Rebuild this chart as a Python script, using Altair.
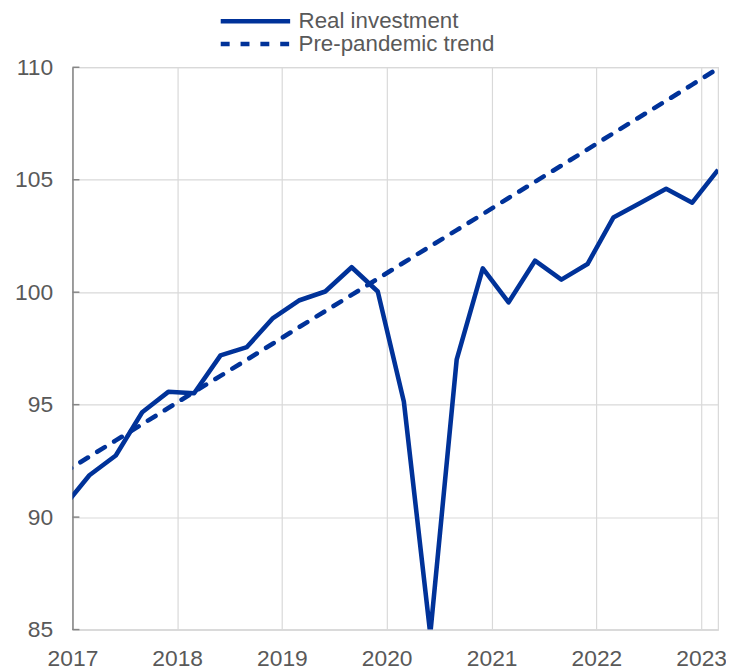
import altair as alt
import pandas as pd

dates = [
    "2016-12-01",
    "2017-03-01", "2017-06-01", "2017-09-01", "2017-12-01",
    "2018-03-01", "2018-06-01", "2018-09-01", "2018-12-01",
    "2019-03-01", "2019-06-01", "2019-09-01", "2019-12-01",
    "2020-03-01", "2020-06-01", "2020-09-01", "2020-12-01",
    "2021-03-01", "2021-06-01", "2021-09-01", "2021-12-01",
    "2022-03-01", "2022-06-01", "2022-09-01", "2022-12-01",
    "2023-03-01",
]
real_investment = [
    90.45,
    91.86, 92.74, 94.66, 95.57,
    95.51, 97.19, 97.56, 98.85,
    99.63, 100.03, 101.11, 100.03,
    95.13, 84.8, 97.0, 101.06,
    99.55, 101.4, 100.56, 101.25,
    103.32, 103.96, 104.6, 103.98,
    105.44,
]
pre_pandemic_trend = [
    91.97,
    92.69, 93.41, 94.13, 94.85,
    95.57, 96.28, 97.00, 97.72,
    98.44, 99.16, 99.88, 100.60,
    101.32, 102.04, 102.76, 103.47,
    104.19, 104.91, 105.63, 106.35,
    107.07, 107.79, 108.51, 109.23,
    109.95,
]
series_names = ["Real investment", "Pre-pandemic trend"]
y_ticks = [85, 90, 95, 100, 105, 110]
x_years = [2017, 2018, 2019, 2020, 2021, 2022, 2023]

BLUE = "#003299"
GRID = "#d9d9d9"
TEXT = "#595959"
FONT = "Liberation Sans"

real_df = pd.DataFrame({"date": dates, "value": real_investment, "series": series_names[0]})
trend_df = pd.DataFrame({"date": dates, "value": pre_pandemic_trend, "series": series_names[1]})
ticks_df = pd.DataFrame({"v": y_ticks})

x_scale = alt.Scale(type="utc", domain=[alt.DateTime(year=2017, month=1, date=1, utc=True),
                                        alt.DateTime(year=2023, month=3, date=1, utc=True)])
y_scale = alt.Scale(domain=[85, 110], nice=False, zero=False)

x_axis = alt.Axis(
    values=[alt.DateTime(year=y, month=1, date=1, utc=True) for y in x_years],
    format="%Y", formatType="utc", title=None, ticks=False,
    labelFontSize=23, labelColor=TEXT, labelFont=FONT, labelPadding=18,
    domainColor=GRID, domainWidth=1.5, gridColor=GRID, gridWidth=1.2,
    labelFlush=False, labelOverlap=False,
)
y_axis = alt.Axis(
    values=y_ticks, title=None, ticks=False,
    labelFontSize=23, labelColor=TEXT, labelFont=FONT, labelPadding=20,
    domainColor="#868686", domainWidth=1.5, gridColor=GRID, gridWidth=1.2,
)

legend_common = dict(
    orient="none", legendX=147, title=None,
    symbolType="stroke", symbolSize=4900, symbolStrokeWidth=4.5,
    labelFontSize=22.5, labelColor=TEXT, labelFont=FONT, labelOffset=6,
    labelLimit=0, padding=0, offset=0,
)

real_line = alt.Chart(real_df).mark_line(strokeWidth=4.6, clip=True, strokeJoin="round").encode(
    x=alt.X("date:T", scale=x_scale, axis=x_axis),
    y=alt.Y("value:Q", scale=y_scale, axis=y_axis),
    color=alt.Color(
        "series:N",
        scale=alt.Scale(domain=[series_names[0]], range=[BLUE]),
        legend=alt.Legend(legendY=-84, **legend_common),
    ),
)

trend_line = alt.Chart(trend_df).mark_line(strokeWidth=4.6, clip=True, strokeCap="round", color=BLUE).encode(
    x=alt.X("date:T", scale=x_scale),
    y=alt.Y("value:Q", scale=y_scale),
    strokeDash=alt.StrokeDash(
        "series:N",
        scale=alt.Scale(domain=[series_names[1]], range=[[9, 11]]),
        legend=alt.Legend(legendY=-61, symbolStrokeColor=BLUE, **legend_common),
    ),
)

tick_marks = alt.Chart(ticks_df).mark_rule(color="#868686", strokeWidth=1.5).encode(
    y=alt.Y("v:Q", scale=y_scale),
    x=alt.value(0),
    x2=alt.value(7),
)

chart = alt.layer(real_line, trend_line, tick_marks).properties(
    width=651, height=567,
    autosize=alt.AutoSizeParams(type="none"),
    padding={"left": 65, "top": 57, "right": 8, "bottom": 40},
).configure_view(stroke=GRID, strokeWidth=1.2)

chart.save("out.html", embed_options={"renderer": "svg", "actions": False})
